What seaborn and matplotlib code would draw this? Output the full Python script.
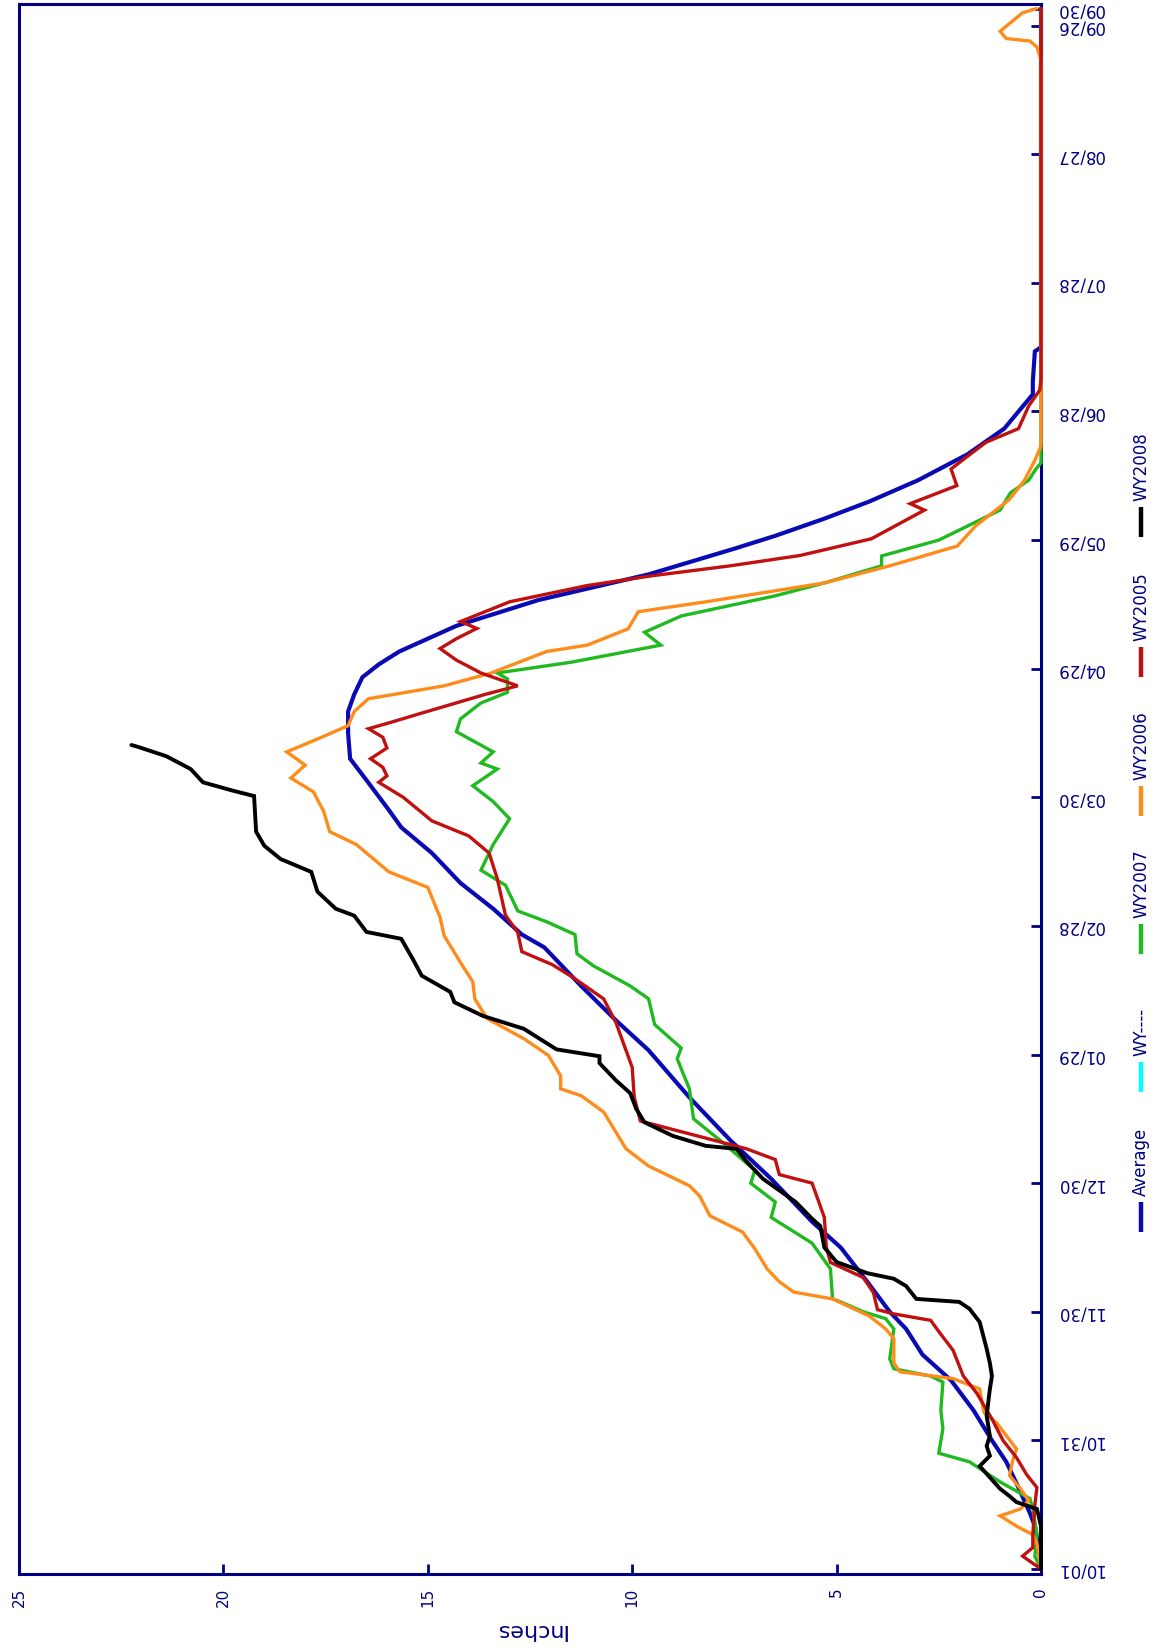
import matplotlib
matplotlib.use("Agg")
import matplotlib.pyplot as plt
from matplotlib.lines import Line2D
import seaborn as sns
import numpy as np

# ---------------- data (day of water year, inches of SWE) ----------------
avg_days = [0, 5, 10, 13, 20, 25, 30, 37, 44, 50, 56, 60, 67, 75, 81, 91, 100, 110, 121, 128,
            136, 145, 148, 154, 160, 167, 173, 177, 184, 189, 195, 200, 204, 208, 211, 214, 217,
            220, 226, 232, 238, 241, 245, 249, 254, 260, 266, 274, 277, 284, 285, 364]
avg_vals = [0, 0.05, 0.15, 0.27, 0.6, 0.85, 1.2, 1.65, 2.2, 2.9, 3.3, 3.7, 4.25, 4.9, 5.6, 6.6,
            7.6, 8.6, 9.6, 10.4, 11.25, 12.15, 12.7, 13.4, 14.2, 14.9, 15.65, 15.95, 16.5, 16.9,
            16.95, 16.95, 16.8, 16.6, 16.2, 15.7, 15.0, 14.3, 12.3, 9.6, 7.5, 6.5, 5.3, 4.2, 3.0,
            1.8, 0.9, 0.2, 0.2, 0.15, 0, 0]

wy2005_days = [0, 2, 3, 5, 8, 15, 19, 22, 26, 30, 35, 41, 45, 51, 55, 58, 59.5, 60.5, 64.5, 68,
               71.5, 75, 82, 90, 92, 95.5, 98, 104.5, 110, 117, 127.5, 133, 138, 141, 144, 148.5,
               152.5, 161, 167, 171, 174.5, 180, 183.5, 185, 187, 189, 191.5, 194, 196, 197.5,
               199.5, 204, 206, 209, 212, 214.7, 217, 219.4, 221, 225.6, 229.4, 231.7, 234, 236.4,
               240.3, 247, 248.5, 252.7, 256.6, 262.8, 266, 271.3, 275, 277.6, 364]
wy2005_vals = [0, 0.3, 0.45, 0.2, 0.2, 0.15, 0.1, 0.35, 0.6, 0.93, 1.2, 1.57, 1.9, 2.15, 2.47, 2.7,
               3.6, 4.0, 4.1, 4.35, 5.15, 5.25, 5.3, 5.6, 6.4, 6.5, 7.2, 9.8, 9.95, 10.0, 10.4, 10.7,
               11.45, 11.96, 12.7, 12.8, 13.1, 13.3, 13.5, 14.0, 14.9, 15.6, 16.2, 16.0, 16.1, 16.4,
               16.0, 16.1, 16.45, 15.9, 15.2, 13.6, 12.8, 13.7, 14.3, 14.7, 14.3, 13.8, 14.2, 13.0,
               11.1, 9.5, 7.6, 5.9, 4.15, 2.85, 3.2, 2.06, 2.2, 1.35, 0.55, 0.3, 0.03, 0, 0]

wy2006_days = [0, 3, 6, 8, 10, 12.4, 14, 16, 18.7, 21.8, 25, 28, 34, 36.6, 42, 44.4, 46, 48, 53.7,
               56, 59, 63, 64.6, 67, 70, 74.7, 78.6, 82.4, 87, 89.4, 94, 98, 103.5, 106.6, 110.4,
               112, 115, 119.8, 123.7, 128.4, 133, 137, 140.7, 147.7, 152, 159, 162.6, 169, 172,
               176.8, 181.3, 184.5, 187.5, 190.6, 193.6, 196.7, 200, 203, 206, 209, 214, 215.5,
               219.3, 223.3, 225.6, 230, 234, 238.6, 243.3, 249.5, 254, 259, 262, 352, 355, 356.4,
               357, 358.7, 363, 364]
wy2006_vals = [0, 0.05, 0.1, 0.2, 0.6, 1.0, 0.5, 0.3, 0.5, 0.77, 0.7, 0.6, 1.08, 1.4, 1.5, 2.15,
               3.45, 3.6, 3.6, 3.8, 4.2, 5.1, 6.05, 6.4, 6.7, 7.0, 7.3, 8.1, 8.35, 8.6, 9.6, 10.15,
               10.5, 10.7, 11.25, 11.75, 11.75, 12.05, 12.65, 13.55, 13.85, 13.9, 14.15, 14.6, 14.7,
               15.0, 15.95, 16.75, 17.4, 17.55, 17.8, 18.35, 18.0, 18.45, 17.7, 16.95, 16.8, 16.45,
               14.6, 13.45, 12.1, 11.1, 10.1, 9.85, 8.2, 5.3, 3.7, 2.05, 1.6, 0.77, 0.4, 0.13, 0, 0,
               0.1, 0.27, 0.85, 1.0, 0.45, 0.1]

wy2007_days = [0, 3, 8, 14, 16.4, 20.3, 25, 27, 32.7, 37, 43.6, 45, 46.7, 49, 56, 58.4, 60, 62.3,
               63, 70, 76, 82, 85.6, 90, 93, 99.6, 105, 112, 119, 121.5, 127, 133, 136, 140.7, 143.5,
               148, 151, 153.5, 159.5, 163, 169, 175, 179, 182.7, 186.6, 188, 190.6, 195.3, 198.3,
               202, 204.5, 207.6, 209, 211.5, 215.5, 218.5, 222.3, 227, 230, 234, 236.3, 240, 247,
               251, 254, 256.5, 258, 364]
wy2007_vals = [0, 0.15, 0.1, 0.2, 0.27, 1.0, 1.75, 2.5, 2.4, 2.45, 2.4, 2.7, 3.6, 3.7, 3.6, 3.8,
               4.35, 4.9, 5.1, 5.15, 5.6, 6.6, 6.5, 7.1, 7.0, 7.8, 8.5, 8.6, 8.9, 8.8, 9.45, 9.6,
               10.05, 10.95, 11.35, 11.4, 12.1, 12.8, 13.1, 13.7, 13.4, 13.0, 13.4, 13.9, 13.3, 13.7,
               13.4, 14.3, 14.2, 13.7, 13.05, 13.05, 13.3, 11.5, 9.3, 9.7, 8.8, 6.5, 5.3, 3.9, 3.9,
               2.5, 1.0, 0.75, 0.3, 0.13, 0, 0]

wy2008_days = [0, 5, 10, 14, 15.6, 17, 18.7, 24, 26.4, 28.7, 31, 35.8, 42, 45, 48, 51.4, 57.6,
               60.7, 62.3, 63, 66, 67.7, 69, 71.6, 75, 80, 81.7, 85.6, 91, 95, 98, 98.7, 101, 104.2,
               107.3, 111, 114, 118, 119.6, 121.2, 126, 129, 132.2, 134.6, 138.4, 142, 147, 148.6,
               152.4, 154, 158, 162.6, 165.6, 168.7, 172, 180.3, 181.5, 183.5, 186.6, 189.6, 191.8,
               192.2]
wy2008_vals = [0, 0, 0, 0.1, 0.6, 0.77, 1.0, 1.5, 1.25, 1.33, 1.25, 1.33, 1.25, 1.2, 1.25, 1.33,
               1.5, 1.75, 2.0, 3.05, 3.3, 3.6, 4.25, 5.0, 5.3, 5.4, 5.6, 6.0, 6.8, 7.2, 7.45, 8.2,
               9.0, 9.7, 9.9, 10.05, 10.4, 10.8, 10.8, 11.85, 12.65, 13.65, 14.35, 14.45, 15.15,
               15.35, 15.65, 16.5, 16.8, 17.25, 17.7, 17.85, 18.6, 19.0, 19.2, 19.25, 19.75, 20.5,
               20.8, 21.4, 22.1, 22.25]

wy_blank_days = []
wy_blank_vals = []

date_tick_days = [0, 30, 60, 90, 120, 150, 180, 210, 240, 270, 300, 330, 360, 364]
date_tick_labels = ['10/01', '10/31', '11/30', '12/30', '01/29', '02/28', '03/30',
                    '04/29', '05/29', '06/28', '07/28', '08/27', '09/26', '09/30']
inch_ticks = [0, 5, 10, 15, 20, 25]

legend_names = ['Average', 'WY----', 'WY2007', 'WY2006', 'WY2005', 'WY2008']

# ---------------- styling ----------------
NAVY = '#000080'
colors = {'Average': '#0A0AB4', 'WY----': '#00FFFF', 'WY2007': '#1FBA1F',
          'WY2006': '#FF8C1A', 'WY2005': '#C0100F', 'WY2008': '#000000'}
widths = {'Average': 3.0, 'WY----': 2.2, 'WY2007': 2.4, 'WY2006': 2.4, 'WY2005': 2.4, 'WY2008': 2.8}

sns.set_style('white')
plt.rcParams['font.family'] = ['DejaVu Sans']

W, H = 1157, 1649
fig = plt.figure(figsize=(W / 100, H / 100), dpi=100)
fig.patch.set_facecolor('white')
ax = fig.add_axes([19 / W, 1 - 1575 / H, (1041 - 19) / W, (1575 - 5) / H])

series = [('Average', avg_days, avg_vals),
          ('WY----', wy_blank_days, wy_blank_vals),
          ('WY2007', wy2007_days, wy2007_vals),
          ('WY2006', wy2006_days, wy2006_vals),
          ('WY2005', wy2005_days, wy2005_vals),
          ('WY2008', wy2008_days, wy2008_vals)]

z = 3
for name, d, v in series:
    if len(d) == 0:
        continue
    n_before = len(ax.lines)
    sns.lineplot(x=v, y=d, sort=False, estimator=None, orient='y', color=colors[name],
                 linewidth=widths[name], ax=ax, legend=False)
    for ln in ax.lines[n_before:]:
        ln.set_clip_on(False)
        ln.set_zorder(z)
        ln.set_solid_joinstyle('miter')
    z += 1

ax.set_xlim(25, 0)
ax.set_ylim(-1.17, 365.05)

for sp in ax.spines.values():
    sp.set_visible(True)
    sp.set_color(NAVY)
    sp.set_linewidth(2.2)

ax.yaxis.tick_right()
ax.set_yticks(date_tick_days)
ax.set_yticklabels(date_tick_labels)
ax.set_xticks(inch_ticks)
ax.set_xticklabels([str(t) for t in inch_ticks])

ax.tick_params(axis='y', which='both', direction='in', length=7, width=2, color=NAVY,
               labelcolor=NAVY, labelsize=12, pad=11, labelrotation=180, left=False, right=True)
ax.tick_params(axis='x', which='both', direction='in', length=7, width=2, color=NAVY,
               labelcolor=NAVY, labelsize=11, pad=9, labelrotation=90, top=False, bottom=True)
for lab in ax.get_yticklabels():
    lab.set_va('center')
    lab.set_ha('left')

ax.set_xlabel('Inches', rotation=180, color=NAVY, fontsize=16)
ax.xaxis.set_label_coords(0.5, -0.0287)
ax.set_ylabel('')
ax.grid(False)

# ---------------- legend (rotated, drawn along right edge) ----------------
leg_x = 1141 / W
sample_top = [1203, 1063, 925, 787, 648, 508]
for name, top in zip(legend_names, sample_top):
    y0 = 1 - (top + 30) / H
    y1 = 1 - top / H
    fig.add_artist(Line2D([leg_x, leg_x], [y0, y1], transform=fig.transFigure,
                          color=colors[name], linewidth=3.2, solid_capstyle='butt'))
    fig.text(leg_x, 1 - (top - 7) / H, name, rotation=90, ha='center', va='bottom',
             color=NAVY, fontsize=12)

fig.savefig('out.png', dpi=100, facecolor='white')
